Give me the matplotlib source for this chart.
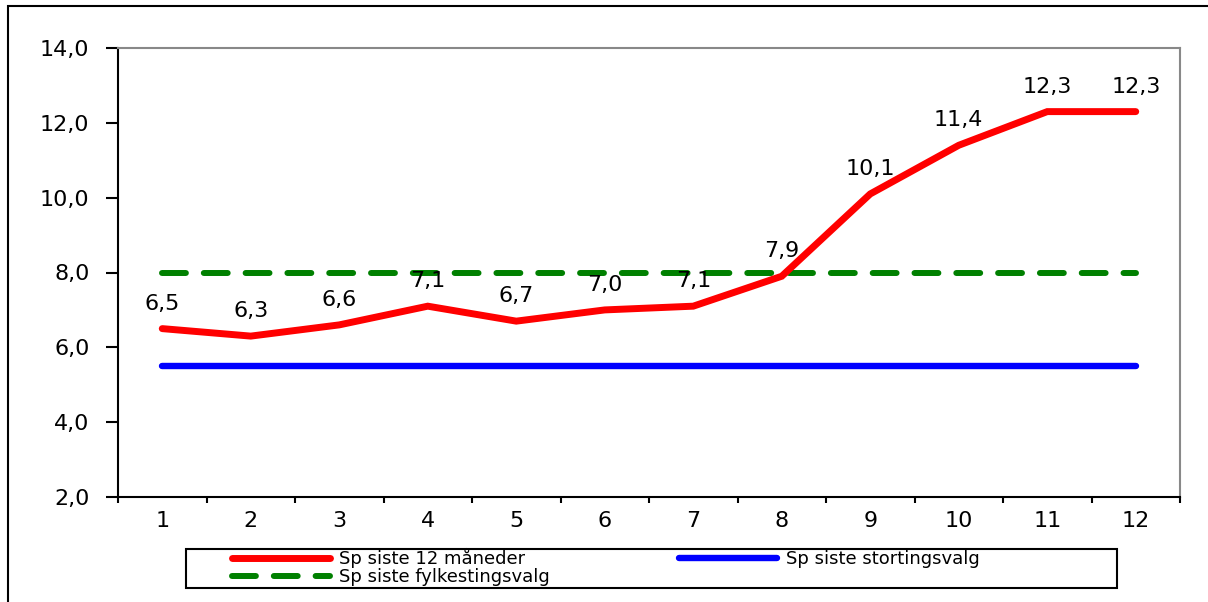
import matplotlib
matplotlib.use("Agg")
import matplotlib.pyplot as plt
from matplotlib.patches import Rectangle
from matplotlib.ticker import FixedLocator, FuncFormatter

plt.rcParams['font.family'] = ['DejaVu Sans']

# data
months = [1, 2, 3, 4, 5, 6, 7, 8, 9, 10, 11, 12]
sp_12mnd = [6.5, 6.3, 6.6, 7.1, 6.7, 7.0, 7.1, 7.9, 10.1, 11.4, 12.3, 12.3]
sp_storting = [5.5] * 12
sp_fylkesting = [8.0] * 12
labels = ["Sp siste 12 måneder", "Sp siste stortingsvalg", "Sp siste fylkestingsvalg"]
yticks = [2, 4, 6, 8, 10, 12, 14]

W, H = 1208, 602
fig = plt.figure(figsize=(W / 100, H / 100), dpi=100)
ax = fig.add_axes([118 / W, 1 - 497 / H, (1180 - 118) / W, (497 - 48) / H])

ax.plot(months, sp_12mnd, color='#ff0000', lw=5.0, solid_capstyle='round',
        solid_joinstyle='miter', zorder=4, label=labels[0])
ax.plot(months, sp_storting, color='#0000ff', lw=4.6, solid_capstyle='round',
        zorder=3, label=labels[1])
green, = ax.plot(months, sp_fylkesting, color='#008000', lw=4.3, zorder=3,
                 dash_capstyle='round', label=labels[2])
green.set_dashes([4.0, 3.0])

for x, v in zip(months, sp_12mnd):
    ax.annotate(f"{v:.1f}".replace('.', ','), (x, v), textcoords='offset points',
                xytext=(0, 18), ha='center', va='center', fontsize=16)

ax.set_xlim(0.5, 12.5)
ax.set_ylim(2, 14)
ax.set_yticks(yticks)
ax.yaxis.set_major_formatter(FuncFormatter(lambda v, p: f"{v:.1f}".replace('.', ',')))
ax.tick_params(axis='y', direction='out', length=8.5, width=1.5, labelsize=16, pad=12)

ax.xaxis.set_major_locator(FixedLocator([m - 0.5 for m in months] + [12.5]))
ax.xaxis.set_minor_locator(FixedLocator(months))
ax.xaxis.set_major_formatter(FuncFormatter(lambda v, p: ""))
ax.xaxis.set_minor_formatter(FuncFormatter(lambda v, p: f"{int(round(v))}"))
ax.tick_params(axis='x', which='major', direction='out', length=4, width=1.5)
ax.tick_params(axis='x', which='minor', length=0, labelsize=16, pad=10)

for s in ['left', 'bottom']:
    ax.spines[s].set_color('black')
    ax.spines[s].set_linewidth(1.5)
for s in ['top', 'right']:
    ax.spines[s].set_color('#888888')
    ax.spines[s].set_linewidth(1.5)

# outer chart border (partly outside the canvas)
fig.add_artist(Rectangle((8 / W, -0.2), 1.2, 1.2 - 6 / H, transform=fig.transFigure,
                         fill=False, ec='black', lw=1.5))

# legend box
fig.add_artist(Rectangle((186 / W, 1 - 588 / H), (1117 - 186) / W, (588 - 549) / H,
                         transform=fig.transFigure, fill=False, ec='black', lw=1.5))
h = ax.get_legend_handles_labels()[0]
fig.legend([h[0], h[2], h[1]], [labels[0], labels[2], labels[1]], ncol=2,
           loc='upper left', bbox_to_anchor=(232 / W, 1 - 548 / H), frameon=False,
           fontsize=13, handlelength=5.4, handletextpad=0.5, columnspacing=7.2,
           labelspacing=0.0, borderpad=0.0, borderaxespad=0)

fig.savefig('out.png', dpi=100)
